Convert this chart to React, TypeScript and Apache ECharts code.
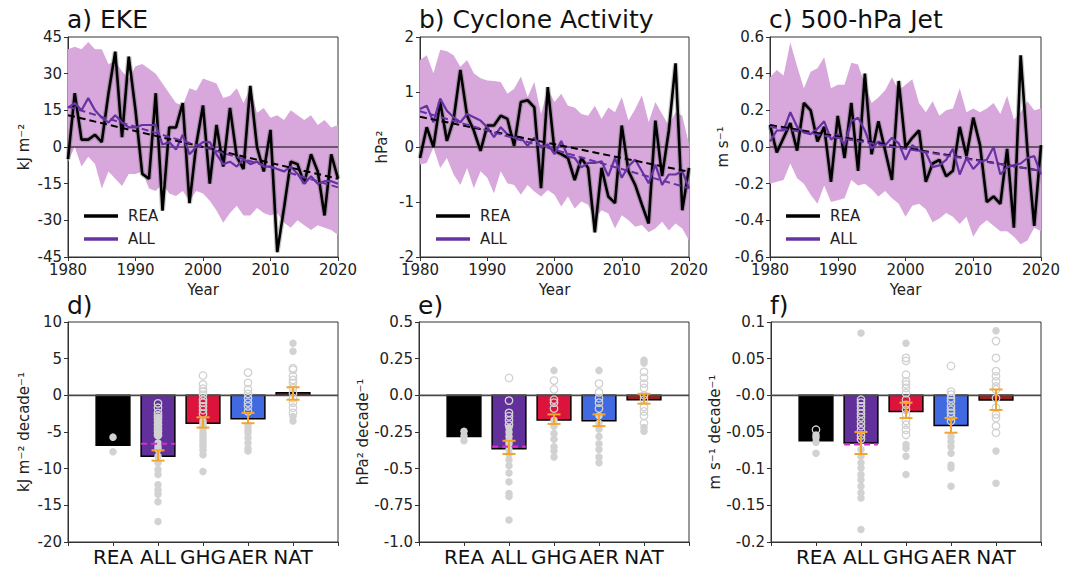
import React, { useEffect, useRef } from 'react';
import * as echarts from 'echarts';

const FONT = 'DejaVu Sans';

const years = Array.from({ length: 41 }, (_, i) => 1980 + i);

// ---- a) EKE ----
const ekeRea = [-5, 22, 3, 3, 5, 2, 22, 39, 4, 37, 15, -11, -13, 22, -26, 8, 8, 18, -23, 1, 17, -15, 9, -8, 16, -4, -9, 25, 0, -10, 7, -43, -25, -6, -7, -15, -3, -10, -28, -3, -13];
const ekeAll = [16, 18, 15, 20, 15, 12, 10, 13, 10, 8, 8, 9, 9, 9, 1, 2, -1, 5, -3, 0, 2, 2, -3, -7, -6, -8, -5, -7, -6, -8, -8, -9, -10, -8, -11, -15, -12, -15, -14, -14, -15];
const ekeHigh = [40, 41, 40, 43, 40, 40, 34, 35, 31, 28, 33, 34, 32, 30, 26, 22, 18, 17, 24, 23, 28, 27, 26, 20, 21, 24, 18, 24, 14, 16, 12, 13, 11, 15, 13, 11, 13, 9, 11, 8, 9];
const ekeLow = [-6, 0, -8, -4, -7, -17, -10, -13, -16, -11, -11, -10, -17, -18, -15, -19, -20, -18, -22, -18, -19, -22, -26, -31, -27, -24, -28, -28, -25, -27, -28, -27, -31, -33, -30, -32, -34, -32, -33, -34, -36];
const ekeTrendRea = [13, -13];
const ekeTrendAll = [16.5, -16.5];

// ---- b) Cyclone Activity ----
const cycRea = [-0.2, 0.36, 0, 0.82, 0.11, 0.5, 1.4, 0.57, 0.3, -0.07, 0.39, 0.39, 0.57, 0.51, 0.02, 0.82, 0.85, 0.72, -0.75, 1.09, -0.07, -0.13, -0.2, -0.6, -0.2, -0.38, -1.55, -0.38, -0.9, -1.02, 0.39, -0.44, -0.69, -1.05, -1.39, 0.48, -0.53, 0.3, 1.52, -1.15, -0.38];
const cycAll = [0.69, 0.75, 0.45, 0.88, 0.66, 0.54, 0.45, 0.6, 0.54, 0.48, 0.36, 0.18, 0.36, 0.23, 0.17, 0.17, 0.02, 0.17, -0.01, 0.05, -0.13, 0.11, -0.17, -0.2, -0.37, -0.29, -0.29, -0.26, -0.53, -0.2, -0.56, -0.35, -0.23, -0.44, -0.66, -0.32, -0.69, -0.5, -0.5, -0.44, -0.75];
const cycHigh = [1.58, 1.67, 1.34, 1.77, 1.74, 1.67, 1.46, 1.58, 1.34, 1.25, 1.21, 1.2, 1.18, 0.97, 1.06, 1.28, 0.91, 1.18, 0.6, 1.06, 0.82, 0.97, 0.75, 0.72, 0.6, 0.57, 0.75, 0.51, 0.72, 0.63, 0.91, 0.48, 0.69, 0.94, 0.45, 0.82, 0.6, 0.39, 0.63, 0.57, 0.05];
const cycLow = [-0.32, -0.29, -0.01, -0.38, -0.2, -0.5, -0.69, -0.38, -0.75, -0.44, -0.56, -0.84, -0.44, -0.66, -0.69, -0.87, -0.69, -0.81, -0.9, -0.78, -0.87, -1.08, -0.9, -1.12, -0.99, -1.05, -1.3, -1.15, -1.21, -1.48, -1.24, -1.33, -1.45, -1.42, -1.55, -1.48, -1.36, -1.52, -1.39, -1.48, -1.7];
const cycTrendRea = [0.55, -0.45];
const cycTrendAll = [0.65, -0.75];

// ---- c) 500-hPa Jet ----
const jetRea = [0.12, -0.03, 0.05, 0.13, -0.02, 0.24, 0.2, 0.03, 0.11, -0.19, 0.17, -0.06, 0.24, -0.13, 0.4, -0.04, 0.14, -0.02, -0.18, 0.36, 0, 0.05, 0.09, -0.19, -0.09, -0.07, -0.16, -0.13, 0.11, -0.05, 0.16, 0.01, -0.3, -0.27, -0.31, -0.01, -0.44, 0.5, -0.02, -0.43, 0.01];
const jetAll = [0.03, 0.09, 0.09, 0.19, 0.11, 0.08, 0.07, 0.1, 0.14, 0.04, 0.07, 0.01, 0.14, 0.16, 0.09, -0.01, 0.03, 0.01, 0.05, 0.02, -0.07, 0.01, -0.02, -0.03, -0.11, -0.1, -0.07, -0.01, -0.15, -0.06, -0.12, -0.08, -0.07, 0, -0.15, -0.11, -0.1, -0.09, -0.06, -0.05, -0.15];
const jetHigh = [0.38, 0.42, 0.39, 0.57, 0.44, 0.32, 0.41, 0.43, 0.49, 0.32, 0.34, 0.34, 0.46, 0.45, 0.34, 0.24, 0.27, 0.31, 0.38, 0.31, 0.34, 0.37, 0.24, 0.19, 0.25, 0.17, 0.2, 0.21, 0.32, 0.19, 0.21, 0.19, 0.21, 0.24, 0.18, 0.28, 0.15, 0.19, 0.25, 0.2, 0.21];
const jetLow = [-0.2, -0.19, -0.18, -0.09, -0.17, -0.2, -0.26, -0.31, -0.21, -0.3, -0.29, -0.28, -0.18, -0.21, -0.2, -0.23, -0.27, -0.24, -0.28, -0.31, -0.38, -0.32, -0.31, -0.34, -0.41, -0.39, -0.36, -0.38, -0.42, -0.38, -0.49, -0.43, -0.4, -0.43, -0.46, -0.46, -0.49, -0.53, -0.51, -0.44, -0.46];
const jetTrendRea = [0.12, -0.13];
const jetTrendAll = [0.11, -0.13];

// ---- bottom panels ----
const groups = ['REA', 'ALL', 'GHG', 'AER', 'NAT'];
const barColors = ['#000000', '#62309a', '#dc143c', '#4169e1', '#9b2020'];

const trendEke = [-6.8, -8.3, -3.8, -3.2, 0.36];
const trendCyc = [-0.28, -0.364, -0.168, -0.173, -0.03];
const trendJet = [-0.062, -0.065, -0.022, -0.041, -0.0064];

const errEke = [null, [-8.9, -7.5], [-4.4, -3.0], [-3.8, -2.4], [-0.6, 1.1]];
const errCyc = [null, [-0.40, -0.31], [-0.195, -0.13], [-0.21, -0.13], [-0.057, 0.01]];
const errJet = [null, [-0.08, -0.05], [-0.031, -0.01], [-0.051, -0.031], [-0.02, 0.008]];

const meanLineEke = -6.6;
const meanLineCyc = -0.35;
const meanLineJet = -0.067;

const filledEke = [
  [-5.7, -7.7],
  [-3.0, -3.4, -3.8, -4.2, -4.6, -5.0, -5.5, -6.5, -7.0, -7.4, -8.3, -9.2, -10.1, -10.8, -12.2, -12.9, -13.5, -14.5, -17.2],
  [-3.5, -3.8, -4.2, -4.6, -5.1, -5.5, -6.0, -6.3, -6.7, -7.0, -7.5, -8.1, -10.4],
  [-4.2, -4.7, -5.1, -5.8, -6.5, -7.2, -7.6],
  [7.1, 6.0, -2.9, -3.5],
];
const openEke = [
  [],
  [-1.1, -1.7, -2.4, -2.8, -3.1, -3.5, -4.0, -4.5, -4.9, -5.4],
  [2.7, 1.5, 0.9, 0.5, 0.1, -0.6, -1.0, -1.5, -2.0, -2.5],
  [3.1, 1.7, 0.8, 0.2, -0.4, -1.0, -1.5, -2.2],
  [3.7, 3.5, 2.6, 2.1, 1.7, 1.0, 0.3, -0.4, -1.0, -1.7, -2.4],
];
const filledCyc = [
  [-0.245, -0.275, -0.31],
  [-0.22, -0.25, -0.28, -0.31, -0.33, -0.37, -0.40, -0.44, -0.48, -0.53, -0.59, -0.67, -0.69, -0.85],
  [0.17, -0.17, -0.21, -0.26, -0.3, -0.35, -0.38, -0.42],
  [0.17, -0.14, -0.19, -0.23, -0.28, -0.33, -0.37, -0.42, -0.46],
  [0.24, 0.22, -0.22, -0.245],
];
const openCyc = [
  [],
  [0.118, -0.036, -0.12, -0.143, -0.17, -0.2],
  [0.1, 0.04, -0.03, -0.05, -0.09],
  [0.08, 0.02, -0.02, -0.05, -0.09],
  [0.16, 0.12, 0.08, 0.05, 0.0, -0.03, -0.08, -0.11, -0.14, -0.19],
];
const filledJet = [
  [-0.054, -0.058, -0.064, -0.079],
  [0.085, -0.074, -0.083, -0.092, -0.099, -0.108, -0.115, -0.124, -0.133, -0.14, -0.183],
  [0.071, -0.067, -0.072, -0.083, -0.108],
  [-0.056, -0.063, -0.07, -0.079, -0.095, -0.099, -0.124],
  [0.088, -0.076, -0.12],
];
const openJet = [
  [-0.047],
  [-0.006, -0.01, -0.015, -0.02, -0.025, -0.03, -0.036, -0.042, -0.048, -0.055, -0.06],
  [0.051, 0.047, 0.028, 0.019, 0.015, 0.01, 0.003, -0.006, -0.013, -0.02, -0.026, -0.035, -0.04, -0.047, -0.054],
  [0.04, 0.005, 0.001, -0.004, -0.008, -0.015, -0.02, -0.024, -0.029, -0.035],
  [0.074, 0.051, 0.033, 0.026, 0.019, 0.012, 0.008, -0.004, -0.017, -0.026, -0.031, -0.042, -0.051],
];

const cycTickLabels = ['-1.0', '-0.75', '-0.5', '-0.25', '0.0', '0.25', '0.5'];
const jetTrendTickLabels = ['-0.2', '-0.15', '-0.1', '-0.05', '-0.0', '0.05', '0.1'];

const topTitles = ['a) EKE', 'b) Cyclone Activity', 'c) 500-hPa Jet'];
const bottomTitles = ['d)', 'e)', 'f)'];
const topUnits = ['kJ m\u207B\u00B2', 'hPa\u00B2', 'm s\u207B\u00B9'];
const bottomUnits = ['kJ m\u207B\u00B2 decade\u207B\u00B9', 'hPa\u00B2 decade\u207B\u00B9', 'm s\u207B\u00B9 decade\u207B\u00B9'];

const BAND = '#d8a8dc';
const PURPLE = '#6633a3';
const AXIS = '#333';

function buildOption() {
  const topLefts = [68, 420, 770];
  const topWidths = [270, 269, 271];
  const botLefts = [68, 419, 771];
  const topData = [
    { rea: ekeRea, all: ekeAll, hi: ekeHigh, lo: ekeLow, tr: ekeTrendRea, ta: ekeTrendAll, min: -45, max: 45, interval: 15, fmt: (v: number) => String(Math.round(v)), gap: 37 },
    { rea: cycRea, all: cycAll, hi: cycHigh, lo: cycLow, tr: cycTrendRea, ta: cycTrendAll, min: -2, max: 2, interval: 1, fmt: (v: number) => String(Math.round(v)), gap: 31 },
    { rea: jetRea, all: jetAll, hi: jetHigh, lo: jetLow, tr: jetTrendRea, ta: jetTrendAll, min: -0.6, max: 0.6, interval: 0.2, fmt: (v: number) => (Math.abs(v) < 1e-9 ? '0.0' : v.toFixed(1)), gap: 36 },
  ];
  const botData = [
    { bars: trendEke, err: errEke, mean: meanLineEke, filled: filledEke, open: openEke, min: -20, max: 10, interval: 5, fmt: (v: number) => String(Math.round(v)), gap: 37 },
    { bars: trendCyc, err: errCyc, mean: meanLineCyc, filled: filledCyc, open: openCyc, min: -1, max: 0.5, interval: 0.25, fmt: (v: number) => cycTickLabels[Math.round((v + 1) / 0.25)] ?? '', gap: 33 },
    { bars: trendJet, err: errJet, mean: meanLineJet, filled: filledJet, open: openJet, min: -0.2, max: 0.1, interval: 0.05, fmt: (v: number) => jetTrendTickLabels[Math.round((v + 0.2) / 0.05)] ?? '', gap: 42 },
  ];

  const grid: any[] = [];
  const xAxis: any[] = [];
  const yAxis: any[] = [];
  const series: any[] = [];
  const title: any[] = [];
  const legend: any[] = [];

  const axisCommon = {
    axisLine: { show: true, onZero: false, lineStyle: { color: AXIS, width: 1 } },
    axisTick: { show: true, length: 4, lineStyle: { color: AXIS } },
    splitLine: { show: false },
  };

  topData.forEach((d, p) => {
    grid.push({ left: topLefts[p], top: 37, width: topWidths[p], height: 220, show: true, borderColor: AXIS, borderWidth: 1, backgroundColor: 'transparent' });
    xAxis.push({
      type: 'value', gridIndex: p, min: 1980, max: 2020, interval: 10, ...axisCommon,
      axisLabel: { fontSize: 15, color: '#222', fontFamily: FONT, margin: 5, showMinLabel: true, showMaxLabel: true, formatter: (v: number) => String(Math.round(v)) },
      name: 'Year', nameLocation: 'middle', nameGap: 25, nameTextStyle: { fontSize: 15, color: '#222', fontFamily: FONT },
    });
    yAxis.push({
      type: 'value', gridIndex: p, min: d.min, max: d.max, interval: d.interval, ...axisCommon,
      axisLabel: { fontSize: 15, color: '#222', fontFamily: FONT, margin: 6, formatter: d.fmt },
      name: topUnits[p], nameLocation: 'middle', nameGap: d.gap, nameRotate: 90,
      nameTextStyle: { fontSize: 15, color: '#222', fontFamily: FONT },
    });
    const ax = { xAxisIndex: p, yAxisIndex: p };
    const lo = d.lo;
    const hi = d.hi;
    series.push({
      ...ax, type: 'custom', name: 'band-' + p, silent: true, z: 1,
      encode: { x: 0, y: [1, 2] },
      data: years.map((y, i) => [y, lo[i], hi[i]]),
      renderItem: (params: any, api: any) => {
        if (params.dataIndex !== 0) return null;
        const upper = years.map((y, i) => api.coord([y, hi[i]]));
        const lower = years.map((y, i) => api.coord([y, lo[i]])).reverse();
        return {
          type: 'polygon',
          shape: { points: upper.concat(lower) },
          style: { fill: BAND, stroke: 'none' },
        };
      },
    });
    series.push({
      ...ax, type: 'line', name: 'zero-' + p, silent: true, symbol: 'none',
      lineStyle: { color: '#000', width: 1 }, data: [[1980, 0], [2020, 0]], z: 2,
    });
    series.push({
      ...ax, type: 'line', name: 'rea-spread-' + p, silent: true, symbol: 'none',
      lineStyle: { color: 'rgba(90,90,90,0.35)', width: 5 }, data: years.map((y, i) => [y, d.rea[i]]), z: 3,
    });
    series.push({
      ...ax, type: 'line', name: 'REA', symbol: 'none', itemStyle: { color: '#000' },
      lineStyle: { color: '#000', width: 2.6 }, data: years.map((y, i) => [y, d.rea[i]]), z: 4,
    });
    series.push({
      ...ax, type: 'line', name: 'ALL', symbol: 'none', itemStyle: { color: PURPLE },
      lineStyle: { color: PURPLE, width: 2.2 }, data: years.map((y, i) => [y, d.all[i]]), z: 5,
    });
    series.push({
      ...ax, type: 'line', name: 'rea-trend-' + p, symbol: 'none', silent: true,
      lineStyle: { color: '#000', width: 2, type: [7, 4] }, data: [[1980, d.tr[0]], [2020, d.tr[1]]], z: 6,
    });
    series.push({
      ...ax, type: 'line', name: 'all-trend-' + p, symbol: 'none', silent: true,
      lineStyle: { color: PURPLE, width: 2, type: [7, 4] }, data: [[1980, d.ta[0]], [2020, d.ta[1]]], z: 6,
    });
    title.push({
      text: topTitles[p], left: topLefts[p] - 1, top: 7, padding: 0,
      textStyle: { fontSize: 25, fontWeight: 'normal', color: '#111', fontFamily: FONT },
    });
    legend.push({
      left: topLefts[p] + 11, top: 202, orient: 'vertical', itemWidth: 34, itemHeight: 3.5, itemGap: 5,
      icon: 'rect', selectedMode: false,
      data: [{ name: 'REA', itemStyle: { color: '#000' } }, { name: 'ALL', itemStyle: { color: PURPLE } }],
      textStyle: { fontSize: 15, color: '#222', fontFamily: FONT, lineHeight: 18, padding: [0, 0, 0, 5] },
    });
  });

  botData.forEach((d, q) => {
    const p = q + 3;
    grid.push({ left: botLefts[q], top: 322, width: 270, height: 220, show: true, borderColor: AXIS, borderWidth: 1, backgroundColor: 'transparent' });
    xAxis.push({
      type: 'value', gridIndex: p, min: -1, max: 5, interval: 1, ...axisCommon,
      axisLabel: { fontSize: 20, color: '#111', fontFamily: FONT, margin: 5, formatter: (v: number) => groups[Math.round(v)] ?? '' },
    });
    yAxis.push({
      type: 'value', gridIndex: p, min: d.min, max: d.max, interval: d.interval, ...axisCommon,
      axisLabel: { fontSize: 15, color: '#222', fontFamily: FONT, margin: 6, formatter: d.fmt },
      name: bottomUnits[q], nameLocation: 'middle', nameGap: d.gap, nameRotate: 90,
      nameTextStyle: { fontSize: 15, color: '#222', fontFamily: FONT },
    });
    const ax = { xAxisIndex: p, yAxisIndex: p };
    series.push({
      ...ax, type: 'custom', name: 'bars-' + q, silent: true, z: 2,
      encode: { x: 0, y: 1 },
      data: d.bars.map((v, i) => [i, v]),
      renderItem: (params: any, api: any) => {
        const x = api.value(0);
        const y = api.value(1);
        const a = api.coord([x - 0.375, 0]);
        const b = api.coord([x + 0.375, y]);
        return {
          type: 'rect',
          shape: { x: a[0], y: Math.min(a[1], b[1]), width: b[0] - a[0], height: Math.abs(b[1] - a[1]) },
          style: { fill: barColors[params.dataIndex], stroke: '#000', lineWidth: 1.5 },
        };
      },
    });
    series.push({
      ...ax, type: 'line', name: 'bzero-' + q, silent: true, symbol: 'none',
      lineStyle: { color: '#4a4a4a', width: 1.6 }, data: [[-1, 0], [5, 0]], z: 3,
    });
    const filledPts: number[][] = [];
    d.filled.forEach((arr, i) => arr.forEach((v) => filledPts.push([i, v])));
    const openPts: number[][] = [];
    d.open.forEach((arr, i) => arr.forEach((v) => openPts.push([i, v])));
    series.push({
      ...ax, type: 'scatter', name: 'filled-' + q, silent: true, symbol: 'circle', symbolSize: 7.5,
      itemStyle: { color: '#d2d2d2', opacity: 1 }, data: filledPts, z: 4,
    });
    series.push({
      ...ax, type: 'scatter', name: 'open-' + q, silent: true, symbol: 'circle', symbolSize: 7.5,
      itemStyle: { color: 'rgba(0,0,0,0)', borderColor: '#d2d2d2', borderWidth: 1.3, opacity: 1 }, data: openPts, z: 4,
    });
    series.push({
      ...ax, type: 'custom', name: 'mean-' + q, silent: true, z: 5,
      encode: { x: 0, y: 1 },
      data: [[1, d.mean]],
      renderItem: (_params: any, api: any) => {
        const x = api.value(0);
        const y = api.value(1);
        const a = api.coord([x - 0.375, y]);
        const b = api.coord([x + 0.375, y]);
        return {
          type: 'line',
          shape: { x1: a[0], y1: a[1], x2: b[0], y2: b[1] },
          style: { stroke: '#d22fd2', lineWidth: 2.2, lineDash: [6, 4] },
        };
      },
    });
    const errPts: number[][] = [];
    d.err.forEach((e, i) => { if (e) errPts.push([i, e[0], e[1]]); });
    series.push({
      ...ax, type: 'custom', name: 'err-' + q, silent: true, z: 6,
      encode: { x: 0, y: [1, 2] },
      data: errPts,
      renderItem: (_params: any, api: any) => {
        const x = api.value(0);
        const lo = api.coord([x, api.value(1)]);
        const hi = api.coord([x, api.value(2)]);
        const c = 6.5;
        const st = { stroke: '#f4a52c', lineWidth: 2 };
        return {
          type: 'group',
          children: [
            { type: 'line', shape: { x1: lo[0], y1: lo[1], x2: hi[0], y2: hi[1] }, style: st },
            { type: 'line', shape: { x1: lo[0] - c, y1: lo[1], x2: lo[0] + c, y2: lo[1] }, style: st },
            { type: 'line', shape: { x1: hi[0] - c, y1: hi[1], x2: hi[0] + c, y2: hi[1] }, style: st },
          ],
        };
      },
    });
    title.push({
      text: bottomTitles[q], left: botLefts[q] - 1, top: 293, padding: 0,
      textStyle: { fontSize: 25, fontWeight: 'normal', color: '#111', fontFamily: FONT },
    });
  });

  return {
    animation: false,
    backgroundColor: '#fff',
    textStyle: { fontFamily: FONT },
    title,
    legend,
    grid,
    xAxis,
    yAxis,
    series,
  };
}

export default function App() {
  const ref = useRef<HTMLDivElement>(null);
  useEffect(() => {
    if (!ref.current) return;
    const chart = echarts.init(ref.current, undefined, { renderer: 'svg' });
    chart.setOption(buildOption() as any);
    return () => chart.dispose();
  }, []);
  return (
    <div
      ref={ref}
      style={{ position: 'fixed', left: 0, top: 0, width: 1072, height: 570, background: '#fff' }}
    />
  );
}
